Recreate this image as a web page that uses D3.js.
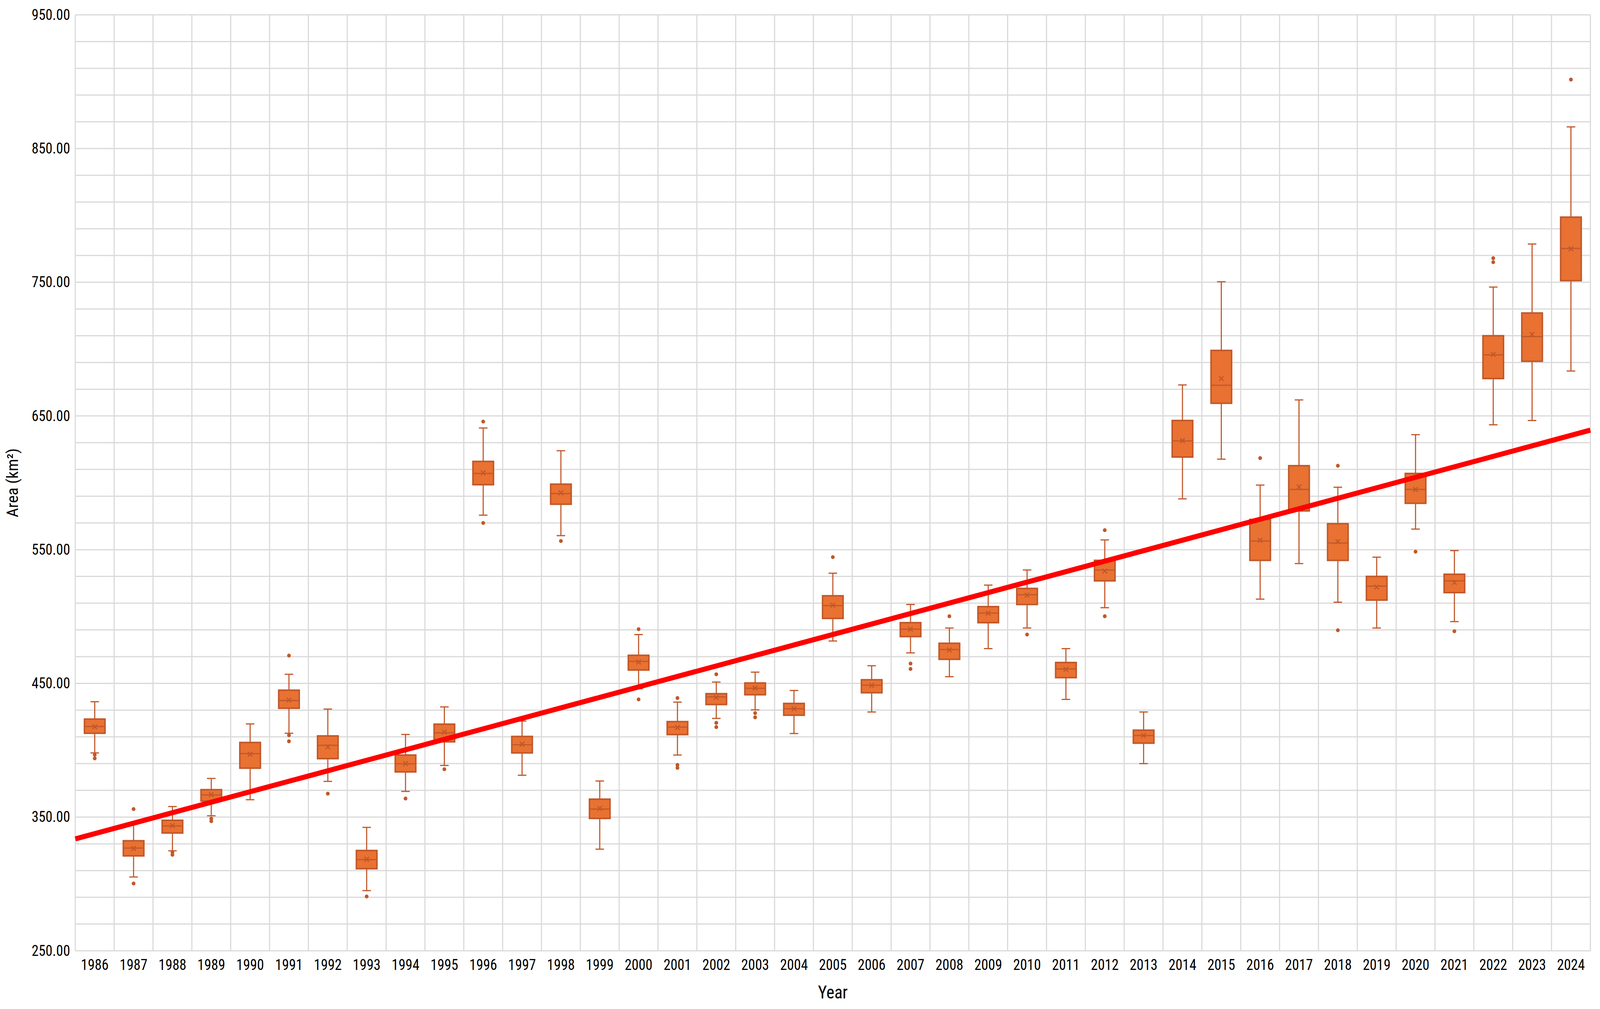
<!DOCTYPE html>
<html><head><meta charset="utf-8">
<script src="https://cdn.jsdelivr.net/npm/d3@7"></script>
<style>html,body{margin:0;padding:0;background:#fff;overflow:hidden;width:100%;height:100%;}svg{display:block;}</style>
</head><body>
<svg id="c" viewBox="0 0 4313 2583" preserveAspectRatio="none" style="width:100vw;height:100vh"></svg>
<script>
const years = d3.range(1986, 2025).map(String);
const whiskerLow  = [398,305.2,324.8,351,363,412.7,376.7,295,369.2,388.6,575.8,381.3,560.5,326,446,396.4,423.8,430.2,412.5,481.7,428.6,472.8,455,476,491.4,438,506.6,390,588,617.7,513,539.6,510.7,491.4,565.4,496.2,643.4,646.6,683.6];
const q1          = [412.7,321,338.1,362,386.6,431.4,393.7,311.4,383.8,406.3,598.6,398,584,349,460,411.7,434.2,441.5,426.2,498.6,443,485,468,495.4,509,454.3,526.7,405.3,619.3,659.5,542,579,542,512.3,584.7,517.9,678,690.9,751.2];
const median      = [417.8,326.8,343.4,366.6,397.5,437.2,403.7,318.2,389.9,413,607,404.1,592,356,466.4,417.3,439.9,446.3,431,508.2,448.7,490.5,475.3,502.6,516.3,460.8,534.8,411,631.3,673,556.5,595,555,522.7,595,526.7,695.7,709.4,775.3];
const q3          = [423.3,332.3,347.6,370.5,405.8,444.9,410.7,325,396.4,419.5,616,410.3,599,363.4,471,421.4,442.3,450.3,435,515.5,452.7,495.4,480,507.4,521,465.6,542,415,646.6,699,572.6,612.8,569.4,530,607,531.6,710,727,798.7];
const whiskerHigh = [436.3,345,357.9,378.9,419.7,456.8,430.8,342.3,411.8,432.4,641,421.8,624,377,486.5,436,451,458.4,444.7,532.4,463.2,509,491.4,523.5,534.8,476,557.3,428.6,673.2,750.4,598.3,662,596.7,544.4,636,549.3,746.4,778.6,866.2];
const mean        = [417.5,326.5,343.6,366.8,397,437.5,402.5,318.4,390,413.5,607.5,404.5,592.5,356.5,466,417,439.5,446.5,431,508.5,448.5,490.5,475,502.5,516,460.5,534,411,631.5,678,557,597,556,522,595,525.5,696,711,775];
const outliers    = [[396.6,393.9],[356,300.3],[323.7,321.8],[348.9,346.9],[],[470.8,411.2,406.7],[367.5],[290.6],[363.9],[385.8],[645.8,570],[],[556.5],[],[490.5,438],[439,389,386.8],[456.8,420.5,417.3],[427.8,424.6],[],[544.4],[],[464.8,460.8],[500.2],[],[486.5],[],[564.6,500.2],[],[],[],[618.5],[],[612.8,489.7],[],[548.5],[489],[768,765],[],[901.6]];
const trendStart = 333.7, trendEnd = 639.4;
const yTicks = d3.range(250, 951, 100);

const L=203,R=4287,T=38,B=2434;
const svg=d3.select('#c');
const font='"Liberation Sans Narrow","Roboto Condensed","Liberation Sans",Arial,sans-serif';
const x=d3.scaleBand().domain(years).range([L,R]).padding(0);
const y=d3.scaleLinear().domain([250,950]).range([B,T]);

const g=svg.append('g');
g.selectAll('.hg').data(d3.range(250,951,20)).join('line')
 .attr('x1',L).attr('x2',R).attr('y1',d=>y(d)).attr('y2',d=>y(d))
 .attr('stroke','#d9d9d9').attr('stroke-width',3);
g.selectAll('.vg').data(years.concat(['end'])).join('line')
 .attr('x1',(d,i)=>L+i*x.bandwidth()).attr('x2',(d,i)=>L+i*x.bandwidth())
 .attr('y1',T).attr('y2',B).attr('stroke','#d9d9d9').attr('stroke-width',3);

const ya=svg.append('g').attr('transform',`translate(${L},0)`)
 .call(d3.axisLeft(y).tickValues(yTicks).tickFormat(d3.format('.2f')).tickSize(0).tickPadding(14));
ya.select('.domain').remove();
ya.selectAll('text').attr('font-family',font).attr('font-size',38).attr('fill','#000');
const xa=svg.append('g').attr('transform',`translate(0,${B})`)
 .call(d3.axisBottom(x).tickSize(0).tickPadding(22));
xa.select('.domain').remove();
xa.selectAll('text').attr('font-family',font).attr('font-size',38).attr('fill','#000');

const stroke='#c0582a', fill='#e97132';
const bw=x.bandwidth()*0.53, cap=x.bandwidth()*0.22;
const bx=svg.append('g');
years.forEach((yr,i)=>{
  const cx=x(yr)+x.bandwidth()/2;
  const gg=bx.append('g');
  gg.append('line').attr('x1',cx).attr('x2',cx).attr('y1',y(whiskerHigh[i])).attr('y2',y(q3[i])).attr('stroke',stroke).attr('stroke-width',3);
  gg.append('line').attr('x1',cx).attr('x2',cx).attr('y1',y(q1[i])).attr('y2',y(whiskerLow[i])).attr('stroke',stroke).attr('stroke-width',3);
  [whiskerHigh[i],whiskerLow[i]].forEach(v=>gg.append('line').attr('x1',cx-cap/2).attr('x2',cx+cap/2).attr('y1',y(v)).attr('y2',y(v)).attr('stroke',stroke).attr('stroke-width',3));
  gg.append('rect').attr('x',cx-bw/2).attr('width',bw).attr('y',y(q3[i])).attr('height',y(q1[i])-y(q3[i]))
    .attr('fill',fill).attr('stroke',stroke).attr('stroke-width',4);
  gg.append('line').attr('x1',cx-bw/2).attr('x2',cx+bw/2).attr('y1',y(median[i])).attr('y2',y(median[i])).attr('stroke',stroke).attr('stroke-width',3);
  const m=y(mean[i]),s=6;
  gg.append('path').attr('d',`M${cx-s},${m-s}L${cx+s},${m+s}M${cx-s},${m+s}L${cx+s},${m-s}`).attr('stroke',stroke).attr('stroke-width',3);
  outliers[i].forEach(v=>gg.append('circle').attr('cx',cx).attr('cy',y(v)).attr('r',5).attr('fill',stroke));
});

svg.append('line').attr('x1',L).attr('x2',R).attr('y1',y(trendStart)).attr('y2',y(trendEnd))
 .attr('stroke','#ff0000').attr('stroke-width',13);

svg.append('text').attr('x',(L+R)/2).attr('y',2556).attr('text-anchor','middle')
 .attr('font-family',font).attr('font-size',46).text('Year');
svg.append('text').attr('transform',`translate(48,${(T+B)/2}) rotate(-90)`).attr('text-anchor','middle')
 .attr('font-family',font).attr('font-size',42).text('Area (km²)');
</script>
</body></html>
